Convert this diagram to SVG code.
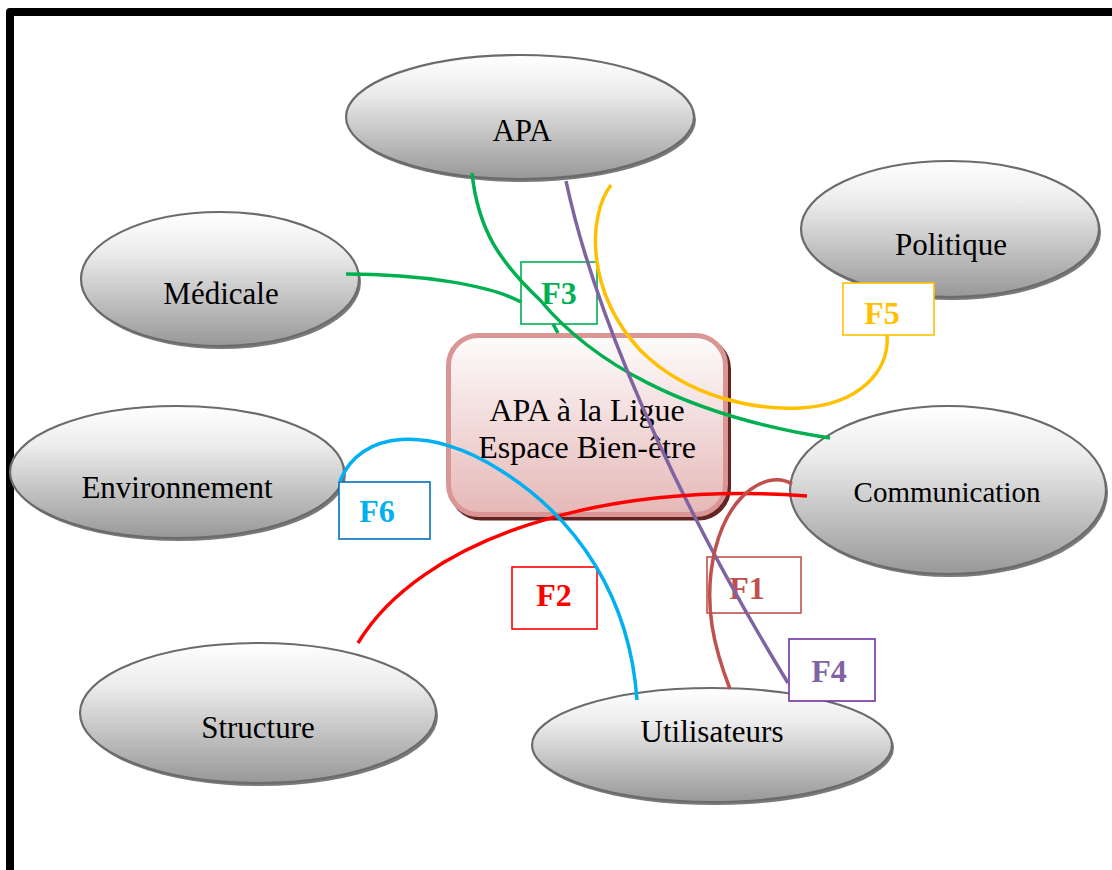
<svg xmlns="http://www.w3.org/2000/svg" width="1112" height="870" viewBox="0 0 1112 870">
  <defs>
    <linearGradient id="gEll" x1="0" y1="0" x2="0" y2="1">
      <stop offset="0" stop-color="#ffffff"/>
      <stop offset="0.3" stop-color="#ececec"/>
      <stop offset="1" stop-color="#989898"/>
    </linearGradient>
    <linearGradient id="gBox" x1="0" y1="0" x2="0" y2="1">
      <stop offset="0" stop-color="#fefcfc"/>
      <stop offset="1" stop-color="#e5b8b7"/>
    </linearGradient>
    <style>
      .sh { fill: #7a7a7a; }
      .el { fill: url(#gEll); stroke: #6b6b6b; stroke-width: 2.2; }
      .lbl { font-family: "Liberation Serif", "Times New Roman", serif; font-size: 31px; fill: #000; text-anchor: middle; }
      .ctr { font-family: "Liberation Serif", "Times New Roman", serif; font-size: 32px; fill: #000; text-anchor: middle; }
      .fb { stroke-width: 1.6; }
      .ft { font-family: "Liberation Serif", "Times New Roman", serif; font-size: 32px; font-weight: bold; text-anchor: middle; }
      .c { fill: none; stroke-width: 3.5; stroke-linecap: butt; }
    </style>
  </defs>

  <rect x="0" y="0" width="1112" height="870" fill="#ffffff"/>
  <path d="M10,870 V12 H1112" fill="none" stroke="#000" stroke-width="8" stroke-linejoin="round"/>

  <g id="node-apa">
    <ellipse class="sh" cx="522" cy="120" rx="174" ry="62"/>
    <ellipse class="el" cx="520" cy="117" rx="174" ry="62"/>
    <text class="lbl" x="522" y="141">APA</text>
  </g>
  <g id="node-politique">
    <ellipse class="sh" cx="952" cy="232" rx="149" ry="68"/>
    <ellipse class="el" cx="950" cy="229" rx="149" ry="68"/>
    <text class="lbl" x="951" y="255">Politique</text>
  </g>
  <g id="node-medicale">
    <ellipse class="sh" cx="222" cy="282" rx="139" ry="67"/>
    <ellipse class="el" cx="220" cy="279" rx="139" ry="67"/>
    <text class="lbl" x="221" y="304">Médicale</text>
  </g>
  <g id="node-environnement">
    <ellipse class="sh" cx="179" cy="475" rx="167" ry="66"/>
    <ellipse class="el" cx="177" cy="472" rx="167" ry="66"/>
    <text class="lbl" x="177" y="498">Environnement</text>
  </g>
  <g id="node-communication">
    <ellipse class="sh" cx="950" cy="493" rx="158" ry="84"/>
    <ellipse class="el" cx="948" cy="490" rx="158" ry="84"/>
    <text class="lbl" x="947" y="502" style="font-size:29px">Communication</text>
  </g>
  <g id="node-structure">
    <ellipse class="sh" cx="260" cy="716" rx="178" ry="70"/>
    <ellipse class="el" cx="258" cy="713" rx="178" ry="70"/>
    <text class="lbl" x="258" y="738">Structure</text>
  </g>
  <g id="node-utilisateurs">
    <ellipse class="sh" cx="714" cy="748" rx="180" ry="57"/>
    <ellipse class="el" cx="712" cy="745" rx="180" ry="57"/>
    <text class="lbl" x="712" y="742">Utilisateurs</text>
  </g>
  <g id="node-center">
    <rect x="451.5" y="339" width="277" height="179" rx="30" fill="#632523" stroke="#632523" stroke-width="5"/>
    <rect x="448.5" y="335.5" width="277" height="179" rx="30" fill="url(#gBox)" stroke="#d99694" stroke-width="5"/>
    <text class="ctr" x="587" y="421">APA à la Ligue</text>
    <text class="ctr" x="587" y="458">Espace Bien-être</text>
  </g>

  <g id="label-f3">
    <rect class="fb" x="521" y="262" width="76" height="62" fill="#fff" stroke="#00b050"/>
    <text class="ft" x="559" y="304" fill="#00b050">F3</text>
  </g>
  <g id="label-f5">
    <rect class="fb" x="843" y="283" width="91" height="52" fill="#fff" stroke="#ffc000"/>
    <text class="ft" x="882" y="324" fill="#ffc000">F5</text>
  </g>
  <g id="label-f6">
    <rect class="fb" x="339" y="482" width="91" height="57" fill="#fff" stroke="#0070c0"/>
    <text class="ft" x="377" y="522" fill="#00b0f0">F6</text>
  </g>
  <g id="label-f2">
    <rect class="fb" x="512" y="567" width="85" height="62" fill="#fff" stroke="#ff0000"/>
    <text class="ft" x="554" y="606" fill="#ff0000">F2</text>
  </g>
  <g id="label-f1">
    <rect class="fb" x="707" y="557" width="94" height="56" fill="none" stroke="#c0504d"/>
    <text class="ft" x="747" y="599" fill="#c0504d">F1</text>
  </g>
  <g id="label-f4">
    <rect class="fb" x="789" y="639" width="86" height="62" fill="#fff" stroke="#7030a0"/>
    <text class="ft" x="829" y="682" fill="#8064a2">F4</text>
  </g>

  <g id="connectors">
    <path id="f3-medicale" class="c" stroke="#00b050" d="M346,274 C420,274 490,285 521,302 M553,324 L558,333"/>
    <path id="f3-apa" class="c" stroke="#00b050" d="M472,173 C478,230 500,262 540,300 C590,360 680,415 830,438"/>
    <path id="f4" class="c" stroke="#8064a2" d="M566,181 C585,270 640,440 788,683"/>
    <path id="f5" class="c" stroke="#ffc000" d="M611,185 C588,215 585,290 640,350 C690,400 760,410 800,408 C860,405 890,370 887,335"/>
    <path id="f2" class="c" stroke="#ff0000" d="M358,643 C420,540 600,480 807,496"/>
    <path id="f6" class="c" stroke="#00b0f0" d="M340,481 C360,430 430,425 500,470 C580,520 630,600 637,700"/>
    <path id="f1" class="c" stroke="#c0504d" d="M792,484 C770,470 730,490 715,550 C702,605 715,650 730,689"/>
  </g>
</svg>
